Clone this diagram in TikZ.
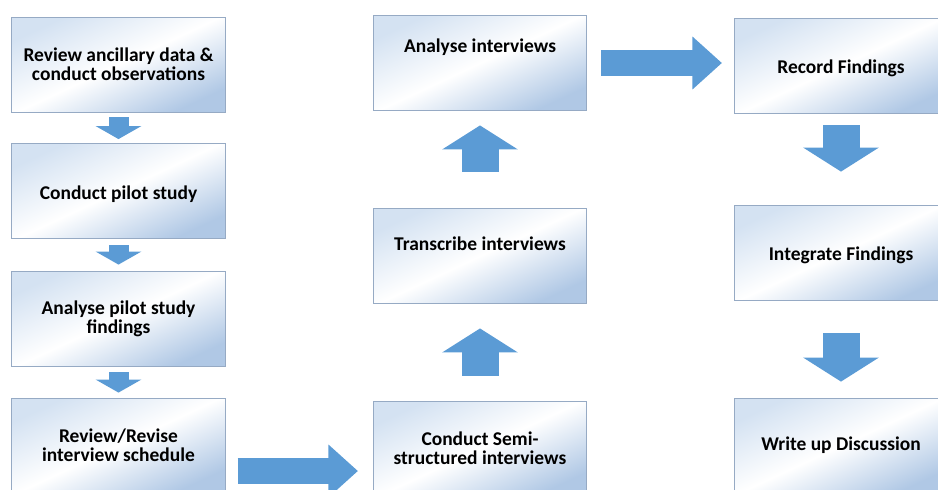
\documentclass[tikz,border=0pt]{standalone}
\usepackage{amsmath}
\usepackage{xcolor}
\usepackage{amssymb}
\usepackage{tikz}
\usepackage{color}
\usepackage{fontspec}
\setmainfont{Carlito}
\usetikzlibrary{arrows.meta,calc}

\definecolor{boxedge}{RGB}{150,170,196}
\definecolor{boxtop}{RGB}{212,226,242}
\definecolor{boxbot}{RGB}{176,200,229}
\definecolor{arrowblue}{RGB}{91,155,213}

\tikzset{
  stepbox/.style={draw=boxedge, line width=0.6pt, top color=boxtop, bottom color=boxbot, middle color=white, shading angle=25,
    minimum width=160pt, minimum height=71.25pt, inner sep=0pt, align=center, font=\fontsize{14.6}{14.2}\selectfont\bfseries},
  lowtext/.style={text height=15pt},
  smallarrow/.style={draw=arrowblue, line width=15pt, -{Triangle[width=33.75pt,length=9.75pt]}},
  bigarrow/.style={draw=arrowblue, line width=27.75pt, -{Triangle[width=55.9pt,length=18pt]}},
  sidearrow/.style={draw=arrowblue, line width=19.9pt, -{Triangle[width=38.25pt,length=22.1pt]}}
}

\begin{document}
\begin{tikzpicture}[x=0.75pt,y=0.75pt,yscale=-1,xscale=1]
\useasboundingbox (0,0) rectangle (938,489);
\clip (0,0) rectangle (938,489);
\node[stepbox, text depth=1pt] (b1) at (118.5,64.5) {Review ancillary data \&\\conduct observations};
\node[stepbox, lowtext] (b2) at (118.5,191) {Conduct pilot study};
\node[stepbox] (b3) at (118.5,318.5) {Analyse pilot study\\findings};
\node[stepbox] (b4) at (118.5,445.5) {Review/Revise\\interview schedule};
\node[stepbox, text depth=25.5pt] (a1) at (480,63) {Analyse interviews};
\node[stepbox, text depth=18pt] (a2) at (480,256) {Transcribe interviews};
\node[stepbox] (a3) at (480,448.5) {Conduct Semi-\\structured interviews};
\node[stepbox, lowtext] (r1) at (841,65.5) {Record Findings};
\node[stepbox, lowtext] (r2) at (841,252.5) {Integrate Findings};
\node[stepbox] (r3) at (841,445.5) {Write up Discussion};
\coordinate (low) at ($(b4.east)+(0,25.5)$);
\draw[smallarrow, shorten <=3.75pt, shorten >=3pt] (b1) -- (b2);
\draw[smallarrow, shorten <=4.9pt, shorten >=4.5pt] (b2) -- (b3);
\draw[smallarrow, shorten <=4.5pt, shorten >=3.75pt] (b3) -- (b4);
\draw[sidearrow, shorten <=9pt, shorten >=11.25pt] (low) -- (low -| a3.west);
\draw[bigarrow, shorten <=18.75pt, shorten >=18.4pt] (a3) -- (a2);
\draw[bigarrow, shorten <=27.4pt, shorten >=10.9pt] (a2) -- (a1);
\draw[sidearrow, shorten <=10.5pt, shorten >=9pt] (a1.east) -- (a1.east -| r1.west);
\draw[bigarrow, shorten <=9pt, shorten >=24.75pt] (r1) -- (r2);
\draw[bigarrow, shorten <=24.75pt, shorten >=12pt] (r2) -- (r3);
\end{tikzpicture}
\end{document}
